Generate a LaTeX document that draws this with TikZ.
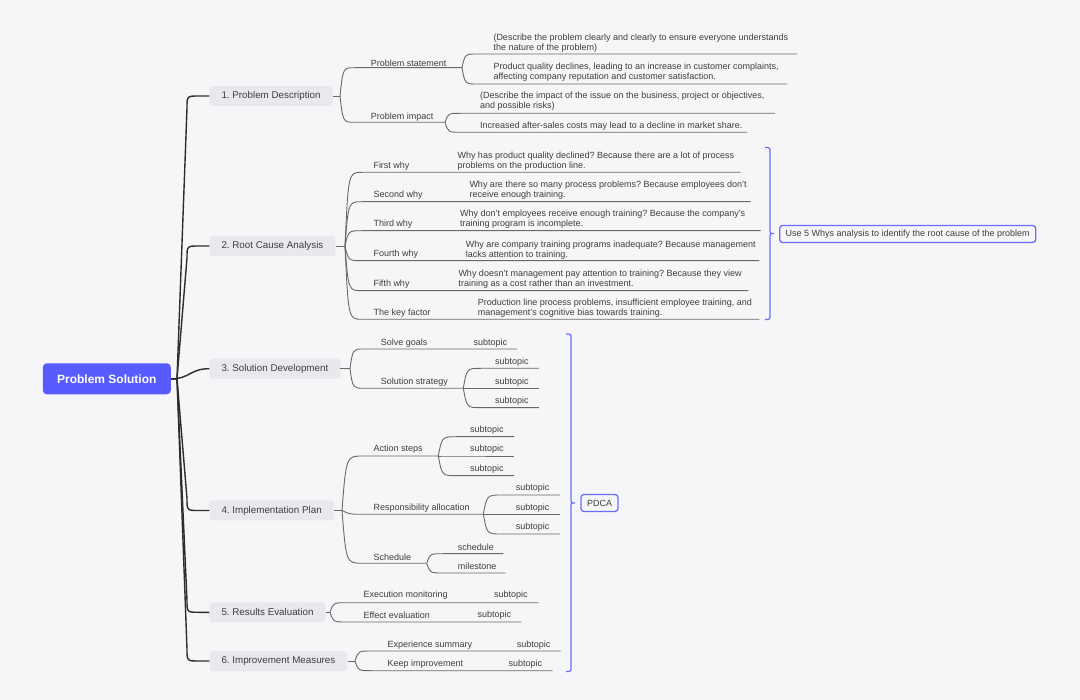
\documentclass[tikz,border=0pt]{standalone}
\usepackage{fontspec}
\setmainfont{Liberation Sans}
\frenchspacing
\definecolor{bg}{RGB}{246,246,248}
\definecolor{blu}{RGB}{88,92,255}
\definecolor{lfill}{RGB}{233,233,237}
\definecolor{tc}{RGB}{62,62,62}
\definecolor{lnc}{RGB}{105,105,105}
\definecolor{trunk}{RGB}{45,45,45}
\definecolor{brc}{RGB}{105,110,255}
\tikzset{
 rootbox/.style={fill=blu, rounded corners=4pt, text=white, font=\fontsize{12}{14}\selectfont\bfseries, minimum width=128pt, minimum height=31pt, inner sep=0},
 topic/.style={fill=lfill, rounded corners=3pt, text=tc, font=\fontsize{9.8}{12}\selectfont, minimum height=20pt, inner xsep=12pt, inner ysep=0, anchor=west},
 txt/.style={anchor=west, inner sep=0, text=tc, font=\fontsize{9}{10}\selectfont, align=left, yshift=-0.6pt},
 tline/.style={draw=trunk, line width=1.4pt},
 bline/.style={draw=lnc, line width=0.9pt},
 bracestyle/.style={draw=brc, line width=1.2pt},
 note/.style={draw=brc, line width=1.3pt, rounded corners=3pt, fill=bg, text=tc, font=\fontsize{9}{10}\selectfont, minimum height=17pt, inner xsep=6pt, inner ysep=0},
}
% branch: from (#1,#2) curve to (#3,#4) then line to (#5,#4)
\newcommand\brln[5]{\draw[bline] (#1,#2) .. controls ({#1+0.2*(#3-#1)},#4) .. (#3,#4) -- (#5,#4);}
\begin{document}
\begin{tikzpicture}[x=1pt,y=-1pt]
\fill[bg] (0,0) rectangle (1080,700);
\useasboundingbox (0,0) rectangle (1080,700);

% root and main topics
\node[rootbox] (root) at (106.8,378.8) {Problem Solution};
\node[topic] (n1) at (209.3,96) {1. Problem Description};
\node[topic] (n2) at (209.3,246) {2. Root Cause Analysis};
\node[topic] (n3) at (209.3,368.7) {3. Solution Development};
\node[topic] (n4) at (209.3,510.5) {4. Implementation Plan};
\node[topic] (n5) at (209.3,612.3) {5. Results Evaluation};
\node[topic] (n6) at (209.3,661) {6. Improvement Measures};

\coordinate (rj) at (177,378.8);
\draw[tline] (root.east) -- (rj) -- (187,108) .. controls (187,96) .. (199,96) -- (n1.west);
\draw[tline] (root.east) -- (rj) -- (187,258) .. controls (187,246) .. (199,246) -- (n2.west);
\draw[tline] (root.east) .. controls (190,378.8) and (190,368.7) .. (n3.west);
\draw[tline] (root.east) -- (rj) -- (187,498.5) .. controls (187,510.5) .. (199,510.5) -- (n4.west);
\draw[tline] (root.east) -- (rj) -- (187,600.3) .. controls (187,612.3) .. (199,612.3) -- (n5.west);
\draw[tline] (root.east) -- (rj) -- (187,649) .. controls (187,661) .. (199,661) -- (n6.west);

% ---------- 1. Problem Description
\coordinate (j1) at (340,96);
\draw[bline] (n1.east) -- (j1);
\brln{340}{96}{355}{67.7}{462}
\brln{340}{96}{355}{122.3}{445}
\brln{462}{67.7}{477}{54}{797}
\brln{462}{67.7}{477}{84}{787}
\brln{445}{122.3}{461}{113.3}{775}
\brln{445}{122.3}{461}{132.3}{747}
\node[txt] (ps) at (370.7,62.3) {Problem statement};
\node[txt] (pi) at (370.7,116.7) {Problem impact};
\node[txt] (ps1) at (493.3,43) {(Describe the problem clearly and clearly to ensure everyone understands\\the nature of the problem)};
\node[txt] (ps2) at (493.3,72) {Product quality declines, leading to an increase in customer complaints,\\affecting company reputation and customer satisfaction.};
\node[txt] (pi1) at (480,101) {(Describe the impact of the issue on the business, project or objectives,\\and possible risks)};
\node[txt] (pi2) at (480,125.7) {Increased after-sales costs may lead to a decline in market share.};

% ---------- 2. Root Cause Analysis
\coordinate (j2) at (345,246);
\draw[bline] (n2.east) -- (j2);
\brln{345}{246}{362}{172.3}{740.7}
\brln{345}{246}{362}{201.7}{750.7}
\brln{345}{246}{362}{230.7}{760.5}
\brln{345}{246}{362}{260.7}{759.3}
\brln{345}{246}{362}{290.7}{748.3}
\brln{345}{246}{362}{319.3}{759.3}
\node[txt] (w1) at (373.3,165.7) {First why};
\node[txt] (w2) at (373.3,194.3) {Second why};
\node[txt] (w3) at (373.3,223.3) {Third why};
\node[txt] (w4) at (373.3,254) {Fourth why};
\node[txt] (w5) at (373.3,283.3) {Fifth why};
\node[txt] (w6) at (373.3,312.7) {The key factor};
\node[txt] (a1) at (457.3,160.7) {Why has product quality declined? Because there are a lot of process\\problems on the production line.};
\node[txt] (a2) at (469.3,189.3) {Why are there so many process problems? Because employees don’t\\receive enough training.};
\node[txt] (a3) at (460,218.7) {Why don’t employees receive enough training? Because the company’s\\training program is incomplete.};
\node[txt] (a4) at (465.7,249.2) {Why are company training programs inadequate? Because management\\lacks attention to training.};
\node[txt] (a5) at (458.3,278.5) {Why doesn’t management pay attention to training? Because they view\\training as a cost rather than an investment.};
\node[txt] (a6) at (477.7,307.9) {Production line process problems, insufficient employee training, and\\management’s cognitive bias towards training.};

\draw[bracestyle] (765,147.5) .. controls (770,147.5) .. (770,152.5) -- (770,228.5) .. controls (770,233.5) .. (774,233.5) .. controls (770,233.5) .. (770,238.5) -- (770,314.5) .. controls (770,319.5) .. (765,319.5);
\node[note, anchor=west] (whys) at (779,234) {Use 5 Whys analysis to identify the root cause of the problem};

% ---------- 3. Solution Development
\coordinate (j3) at (350,368.7);
\draw[bline] (n3.east) -- (j3);
\brln{350}{368.7}{364}{349}{517}
\brln{350}{368.7}{364}{388.3}{463.3}
\brln{463.3}{388.3}{481}{368.3}{539}
\brln{463.3}{388.3}{481}{388.3}{539}
\brln{463.3}{388.3}{481}{407.7}{539}
\node[txt] (sg) at (380.7,342.3) {Solve goals};
\node[txt] (sg1) at (473.3,342.3) {subtopic};
\node[txt] (ss) at (380.7,381.7) {Solution strategy};
\node[txt] (ss1) at (495,361.7) {subtopic};
\node[txt] (ss2) at (495,381.7) {subtopic};
\node[txt] (ss3) at (495,400.7) {subtopic};

% ---------- 4. Implementation Plan
\coordinate (j4) at (342,510.5);
\draw[bline] (n4.east) -- (j4);
\brln{342}{510.5}{363}{456}{438.3}
\draw[bline] (342,510.5) .. controls (350,514.3) .. (362,514.3) -- (483.3,514.3);
\brln{342}{510.5}{363}{563.3}{426.7}
\brln{438.3}{456}{456.7}{436.7}{514}
\brln{438.3}{456}{456.7}{456}{514}
\brln{438.3}{456}{456.7}{475.7}{514}
\brln{483.3}{514.3}{501.7}{495}{560}
\brln{483.3}{514.3}{501.7}{514.3}{560}
\brln{483.3}{514.3}{501.7}{534}{560}
\brln{426.7}{563.3}{443.3}{553.7}{503.3}
\brln{426.7}{563.3}{443.3}{573}{505.7}
\node[txt] (as) at (373.3,449) {Action steps};
\node[txt] (as1) at (470,430) {subtopic};
\node[txt] (as2) at (470,449) {subtopic};
\node[txt] (as3) at (470,468.3) {subtopic};
\node[txt] (ra) at (373.3,507.7) {Responsibility allocation};
\node[txt] (ra1) at (515.7,487.7) {subtopic};
\node[txt] (ra2) at (515.7,507.3) {subtopic};
\node[txt] (ra3) at (515.7,527) {subtopic};
\node[txt] (sc) at (373.3,556.7) {Schedule};
\node[txt] (sc1) at (457.7,546.7) {schedule};
\node[txt] (sc2) at (457.7,566) {milestone};

% ---------- 5. Results Evaluation
\coordinate (j5) at (330,612.3);
\draw[bline] (n5.east) -- (j5);
\brln{330}{612.3}{346.7}{602.7}{538.3}
\brln{330}{612.3}{346.7}{622}{521.7}
\node[txt] (em) at (363.3,595) {Execution monitoring};
\node[txt] (em1) at (494,595) {subtopic};
\node[txt] (ee) at (363.3,615) {Effect evaluation};
\node[txt] (ee1) at (477.3,615) {subtopic};

% ---------- 6. Improvement Measures
\coordinate (j6) at (355,661);
\draw[bline] (n6.east) -- (j6);
\brln{355}{661}{371.7}{651}{560.7}
\brln{355}{661}{371.7}{670.7}{552.7}
\node[txt] (es) at (387.3,644.3) {Experience summary};
\node[txt] (es1) at (516.7,644.3) {subtopic};
\node[txt] (ki) at (387.3,664) {Keep improvement};
\node[txt] (ki1) at (508.3,664) {subtopic};

% PDCA brace
\draw[bracestyle] (566,334) .. controls (571,334) .. (571,339) -- (571,498) .. controls (571,503) .. (575,503) .. controls (571,503) .. (571,508) -- (571,666.5) .. controls (571,671.5) .. (566,671.5);
\node[note] (pdca) at (599.5,503) {PDCA};
\end{tikzpicture}
\end{document}
